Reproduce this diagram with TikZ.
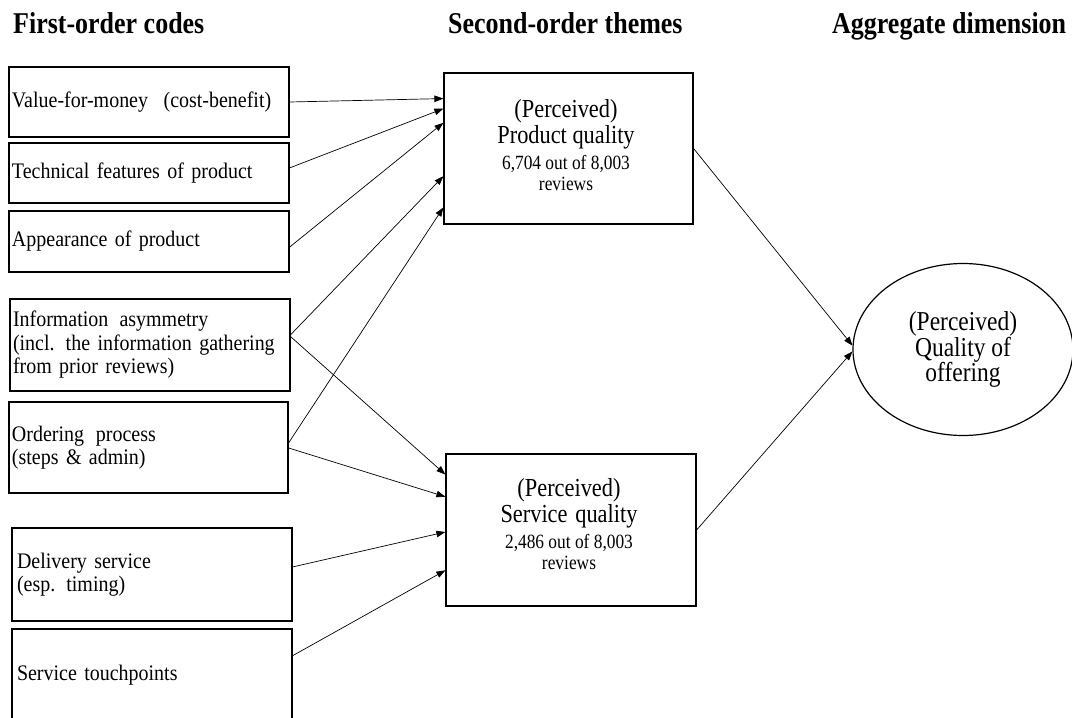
\documentclass[tikz,border=0pt]{standalone}
\usepackage{fontspec}
\setmainfont{Liberation Serif}
\newfontfamily\narrowserif{Liberation Serif}[FakeStretch=0.86]
\newfontfamily\codeserif{Liberation Serif}[FakeStretch=0.9]
\usetikzlibrary{arrows.meta,shapes.geometric,calc}

\begin{document}
\begin{tikzpicture}[x=1pt,y=-1pt,
  codebox/.style={draw, line width=1.2pt, minimum width=280pt, text width=274pt,
    inner xsep=3pt, inner ysep=0pt, align=left,
    font=\codeserif\fontsize{22.2}{23.5}\selectfont},
  themebox/.style={draw, line width=1.2pt, inner sep=0pt},
  themetext/.style={align=center, inner sep=0pt, font=\narrowserif\fontsize{26}{26}\selectfont},
  dimnode/.style={draw, ellipse, line width=1.2pt, inner sep=0pt,
    minimum width=220pt, minimum height=172pt, align=center,
    font=\narrowserif\fontsize{27.3}{25.5}\selectfont},
  header/.style={anchor=base west, inner sep=0pt, font=\narrowserif\fontsize{30.2}{32}\selectfont\bfseries},
  link/.style={line width=0.7pt, -{Triangle[length=9pt,width=6.5pt]}},
]
\useasboundingbox (0,0) rectangle (1072,718);
\clip (0,0) rectangle (1072,718);

% column headings
\node[header] (h1) at (13,33) {First-order codes};
\node[header] (h2) at (448,33) {Second-order themes};
\node[header] (h3) at (832,33) {Aggregate dimension};

% first-order codes
\node[codebox, minimum height=70pt] (b1) at (149,102) {Value-for-money\hspace{0.7em}(cost-benefit)};
\node[codebox, minimum height=60pt] (b2) at (149,173) {Technical features of product};
\node[codebox, minimum height=61pt] (b3) at (149,241.5) {Appearance of product};
\node[codebox, minimum height=92pt] (b4) at (150,345) {Information\hspace{0.5em}asymmetry\\(incl. the information gathering\\from prior reviews)};
\node[codebox, minimum height=91pt, minimum width=279pt, text width=273pt] (b5) at (148.5,447.5) {Ordering\hspace{0.2em} process\\(steps \& admin)};
\node[codebox, minimum height=93pt, inner xsep=5pt, text width=270pt] (b6) at (152,574.5) {Delivery service\\(esp. timing)};
\node[codebox, minimum height=93pt, inner xsep=5pt, text width=270pt] (b7) at (152,675.5) {Service touchpoints};

% second-order themes
\node[themebox, minimum width=249pt, minimum height=151pt] (pq) at (568.5,148.5) {};
\node[themetext] (pqt) at (566,145) {(Perceived)\\Product quality\\{\fontsize{20.2}{21}\selectfont 6,704 out of 8,003}\\[-5pt]{\fontsize{20.2}{21}\selectfont reviews}};
\node[themebox, minimum width=250pt, minimum height=152pt] (sq) at (571,530) {};
\node[themetext] (sqt) at (569,524) {(Perceived)\\Service\hspace{0.3em}quality\\{\fontsize{20.2}{21}\selectfont 2,486 out of 8,003}\\[-5pt]{\fontsize{20.2}{21}\selectfont reviews}};

% aggregate dimension
\node[dimnode] (qo) at (963,349.5) {(Perceived)\\Quality of\\offering};

% codes to themes
\draw[link] (b1.east) -- ($(pq.north west)!0.172!(pq.south west)$);
\draw[link] ($(b2.north east)!0.417!(b2.south east)$) -- ($(pq.north west)!0.238!(pq.south west)$);
\draw[link] ($(b3.north east)!0.59!(b3.south east)$) -- ($(pq.north west)!0.331!(pq.south west)$);
\draw[link] ($(b4.north east)!0.39!(b4.south east)$) -- ($(pq.north west)!0.682!(pq.south west)$);
\draw[link] ($(b4.north east)!0.41!(b4.south east)$) -- ($(sq.north west)!0.138!(sq.south west)$);
\draw[link] ($(b5.north east)!0.45!(b5.south east)$) -- ($(pq.north west)!0.887!(pq.south west)$);
\draw[link] ($(b5.north east)!0.505!(b5.south east)$) -- ($(sq.north west)!0.283!(sq.south west)$);
\draw[link] ($(b6.north east)!0.42!(b6.south east)$) -- ($(sq.north west)!0.513!(sq.south west)$);
\draw[link] ($(b7.north east)!0.29!(b7.south east)$) -- ($(sq.north west)!0.763!(sq.south west)$);

% themes to aggregate dimension
\draw[link] (pq.east) -- (qo.178.5);
\draw[link] (sq.east) -- (qo.181.5);
\end{tikzpicture}
\end{document}
